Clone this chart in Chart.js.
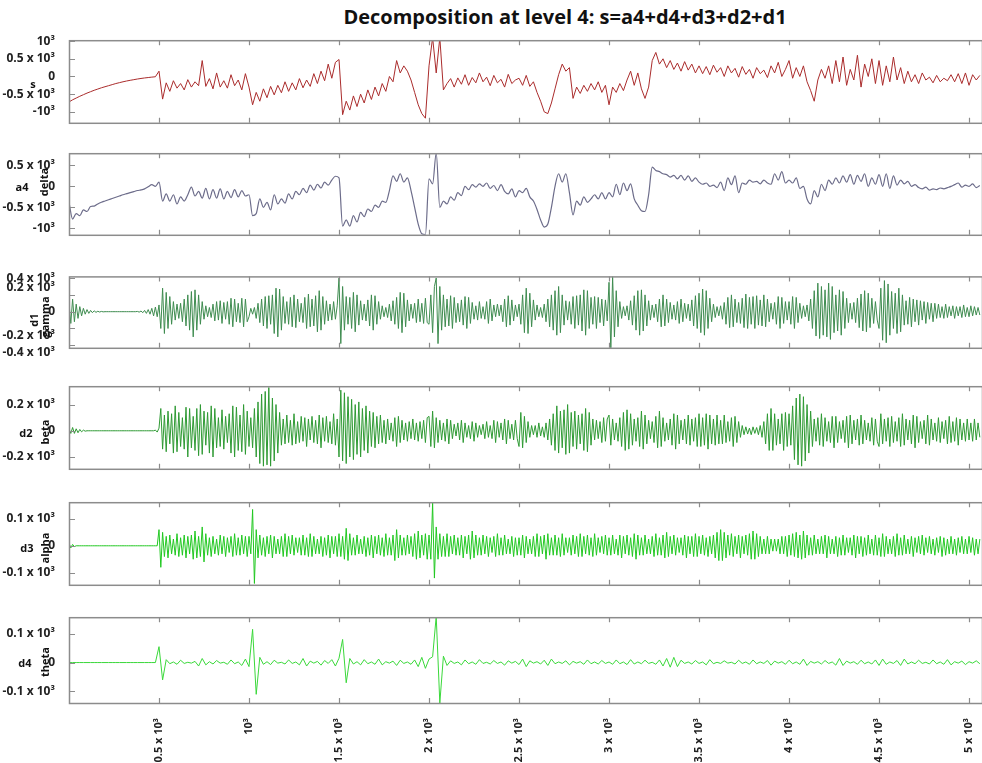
<!DOCTYPE html>
<html>
<head>
<meta charset="utf-8">
<script src="https://cdn.jsdelivr.net/npm/chart.js@4.4.0/dist/chart.umd.min.js"></script>
<style>
  body { margin:0; background:#fff; width:982px; height:763px; overflow:hidden; position:relative; font-family:"Open Sans", sans-serif; }
  canvas { position:absolute; left:0; }
  .title { position:absolute; top:3px; left:565px; transform:translateX(-50%); font-weight:700; font-size:20px; white-space:nowrap; color:#111; }
  .lab { position:absolute; font-weight:700; font-size:11px; color:#111; white-space:nowrap; transform:translate(-50%,-50%); }
  .rot { transform:translate(-50%,-50%) rotate(-90deg); }
</style>
</head>
<body>
<div class="title">Decomposition at level 4: s=a4+d4+d3+d2+d1</div>

<script>
const X_MAX = 5072;
const xTicks = [500, 1000, 1500, 2000, 2500, 3000, 3500, 4000, 4500, 5000];

// --- series: s, a4, d4 sampled every 20; d1, d2, d3 every 10 (one line per 500 samples) ---
const sValues = [
  -720,-660,-610,-560,-515,-470,-430,-390,-355,-320,-290,-260,-230,-200,-175,-150,-128,-108,-90,-72,-56,-42,-30,-18,-8,
  150,-640,-180,-420,-120,-330,-200,-380,-90,-300,-150,-260,450,-280,-60,-350,100,-300,-120,-330,50,-260,-100,-380,80,
  -300,-800,-450,-700,-350,-600,-280,-520,-250,-460,-150,-420,-180,-380,-60,-320,-100,-280,80,-200,150,-120,350,-50,400,
  480,-1080,-700,-950,-550,-850,-500,-750,-380,-650,-300,-550,-200,-420,0,-150,450,100,300,150,-100,-450,-800,-1050,-1180,
  300,1100,100,1100,-380,-200,-60,-300,-40,-220,50,-250,-30,-180,100,-150,-20,-260,30,-180,-80,-300,60,-200,-100,
  -50,-250,30,-280,-150,-450,-700,-1000,-1050,-750,-350,50,350,150,250,-620,-300,-480,-250,-420,-200,-380,-150,-450,-250,
  -800,-300,-450,-200,-400,-100,150,-250,100,-350,-620,-300,450,680,350,500,250,450,200,380,150,420,180,350,100,
  300,80,280,50,320,120,250,0,300,100,230,-20,280,60,200,-50,250,80,180,-30,300,100,400,0,200,
  450,-50,250,0,300,-150,-400,-700,-100,200,-50,300,-200,450,-150,550,-250,200,-100,600,-300,350,0,500,-200,
  450,-250,300,-150,550,-100,250,-200,150,-150,50,-200,100,-100,-20,-180,30,-150,-50,-120,50,-150,80,-200,100,-250,50,-100,30
];

const a4Values = [
  -380,-780,-650,-700,-560,-600,-480,-470,-420,-380,-350,-320,-290,-260,-230,-200,-175,-150,-125,-100,-85,-60,-10,40,0,
  100,-350,-180,-350,-200,-420,-250,-350,-200,-20,-230,-120,-280,-50,-300,-80,-280,-60,-300,-120,-270,-80,-250,-100,-230,
  -200,-700,-650,-300,-500,-380,-560,-200,-420,-300,-400,-180,-300,-120,-200,-50,-150,30,-90,50,-40,100,30,150,240,
  200,-950,-800,-950,-700,-850,-620,-720,-540,-600,-450,-500,-350,-380,-100,250,120,300,100,200,-100,-500,-900,-1130,-1150,
  180,60,790,-500,-350,-420,-250,-330,-150,-220,0,-80,40,-20,60,0,80,-50,20,-100,40,-120,-180,-60,-250,
  -100,-150,-50,-250,-350,-550,-800,-970,-900,-500,0,300,100,300,-150,-680,-350,-450,-250,-380,-300,-200,-300,-150,-300,
  -150,-250,50,-200,80,-100,60,-300,-450,-580,-600,-200,460,380,350,300,280,220,260,180,260,150,250,120,200,
  100,50,80,0,30,-30,100,-100,200,40,250,-150,80,50,150,100,120,60,150,80,50,300,150,350,80,
  150,80,200,-50,0,-300,-420,-100,-250,50,-100,150,50,200,80,250,100,280,50,260,120,300,0,200,50,
  280,0,300,-50,250,30,150,60,120,0,40,-30,-60,-20,-90,-60,-80,-40,-60,-30,0,40,80,-20,30,0,60,-30,20
];

const d1Values = [
  100,-140,150,-120,90,-80,60,-50,40,-30, 25,-20,15,-12,10,-8,5,-4,3,-2, 0,0,0,0,0,0,0,0,0,0, 0,0,0,0,0,0,0,0,3,-5, 8,-12,15,-20,25,-30,40,-50,55,-60,
  80,-200,280,-260,230,-200,180,-150,120,-100, 90,-80,100,-120,150,-170,200,-220,240,-300, 260,-220,200,-150,120,-90,70,-60,50,-70, 90,-110,120,-100,130,-140,110,-90,120,-150, 160,-180,150,-120,100,-130,160,-180,150,-120,
  -60,40,-30,50,-80,100,-130,150,-170,180, -200,190,-150,200,-260,280,-300,270,-220,180, -140,120,-150,170,-180,200,-190,150,-120,100, -130,170,-200,210,-180,150,-170,190,-240,250, -220,180,-150,130,-110,90,-100,120,-90,70,
  400,-380,300,-220,180,-150,170,-200,230,-240, 200,-160,130,-100,90,-110,140,-170,200,-220, 190,-150,120,-90,70,-60,50,-70,90,-110, 130,-150,170,-200,230,-250,220,-180,140,-110, 90,-80,100,-130,150,-120,100,-140,160,-130,
  -150,200,-250,300,400,-380,300,-220,200,-180, 150,-170,190,-200,170,-130,100,-120,140,-160, 180,-200,170,-140,110,-90,70,-100,120,-80, 60,-90,120,-140,150,-110,80,-60,90,-50, 80,-120,150,-180,190,-160,140,-110,80,-60,
  90,-150,200,-250,280,-260,220,-180,140,-100, 80,-60,50,-70,90,-120,150,-180,200,-220, 250,-280,300,-250,200,-160,130,-100,120,-150, 180,-200,190,-160,200,-230,260,-280,250,-200, 170,-150,180,-200,170,-130,150,-170,140,-110,
  350,-470,420,-300,250,-180,120,-80,60,-50, 70,-100,130,-160,190,-220,250,-280,260,-230, 200,-170,130,-100,80,-70,90,-120,150,-180, 200,-170,150,-130,110,-90,80,-100,120,-140, 150,-120,100,-80,90,-110,140,-170,190,-200,
  220,-250,270,-280,250,-200,160,-120,90,-70, 60,-50,70,-90,110,-150,170,-190,200,-180, 150,-130,110,-140,160,-190,210,-200,170,-150, 180,-200,190,-160,140,-170,200,-180,150,-120, 100,-90,110,-150,180,-200,170,-140,120,-100,
  120,-150,180,-200,170,-130,100,-80,70,-60, 80,-110,150,-200,250,-290,340,-320,300,-280, 260,-300,340,-330,300,-250,200,-230,260,-280, 240,-200,160,-130,100,-90,110,-130,160,-190, 210,-230,250,-240,220,-190,160,-140,120,-100,
  -200,280,-340,370,-370,330,-280,240,-200,220, -260,280,-240,200,-160,130,-150,170,-180,150, -120,140,-160,130,-100,120,-140,110,-90,100, -120,100,-80,90,-70,60,-80,90,-70,60, -50,70,-80,60,-50,60,-70,80,-60,50, -60,70,-50,60,-40,50,-40
];

const d2Values = [
  15,-20,25,-20,15,-15,10,-8,5,-3, 0,0,0,0,0,0,0,0,0,0, 0,0,0,0,0,0,0,0,0,0, 0,0,0,0,0,0,0,0,0,0, 0,0,0,0,0,0,0,0,5,-10,
  20,170,-140,120,-160,150,-100,130,-170,190, -160,140,-120,100,-140,180,-200,170,-130,110, -150,170,-190,200,-180,150,-110,140,-170,190, -200,170,-130,100,-120,160,-140,110,-90,130, -170,190,-200,180,-150,120,-160,200,-180,150,
  -120,100,-130,170,-200,220,-250,280,-270,300, -260,330,-270,250,-230,200,-170,140,-110,90, -100,120,-90,80,-110,130,-100,70,-90,110, -80,100,-120,90,-70,110,-90,80,-100,120, -130,100,-80,110,-90,70,-100,130,-110,90,
  -200,310,-230,290,-250,260,-200,240,-220,200, -180,220,-200,170,-150,190,-170,150,-120,140, -130,110,-100,120,-90,80,-100,90,-70,60, -80,100,-120,110,-90,80,-70,60,-80,70, -60,90,-70,60,-80,70,-60,80,-90,100,
  110,-120,150,-130,100,-90,80,-70,60,-80, 90,-100,80,-60,50,-40,60,-70,80,-90, 60,-50,40,-60,70,-80,60,-50,40,-30, 50,-60,70,-50,40,-60,80,-90,70,-50, 60,-70,90,-100,80,-60,50,-70,80,-60,
  -120,140,-130,110,-90,70,-50,40,-30,40, -50,60,-40,30,-50,60,-70,90,-110,130, -150,190,-170,150,-130,160,-180,200,-170,140, -120,150,-140,120,-100,130,-150,170,-160,140, -110,90,-70,80,-60,70,-90,100,-80,90,
  120,-110,90,-70,60,-80,100,-120,140,-150, 160,-140,130,-110,90,-80,100,-120,150,-140, 120,-100,80,-60,70,-90,110,-130,150,-120, 100,-80,60,-70,90,-110,130,-140,120,-100, 80,-70,90,-100,120,-110,90,-80,100,-120,
  130,-120,100,-110,130,-140,120,-100,90,-110, 120,-100,80,-100,120,-90,70,-80,100,-120, 110,-90,70,-50,40,-30,30,-25,20,-30, 30,-20,25,-30,40,-50,70,-100,130,-150, 170,-150,130,-110,90,-100,130,-150,140,-120,
  130,-110,190,-220,250,-260,280,-270,260,-230, 200,-170,150,-120,90,-80,100,-110,130,-120, 100,-80,70,-90,110,-130,110,-90,70,-60, 80,-90,110,-130,120,-100,80,-70,90,-110, 120,-100,80,-70,60,-80,100,-110,90,-80,
  -120,130,-100,90,-80,100,-120,110,-90,70, -80,100,-120,130,-110,90,-70,80,-100,120, -130,110,-90,70,-60,80,-100,120,-110,90, -70,60,-80,100,-90,70,-60,80,-100,110, -90,70,-80,100,-110,90,-70,60,-80,90, -70,60,-80,90,-70,60,-50
];

const d3Values = [
  10,-8,5,-3,0,0,0,0,0,0, 0,0,0,0,0,0,0,0,0,0, 0,0,0,0,0,0,0,0,0,0, 0,0,0,0,0,0,0,0,0,0, 0,0,0,0,0,0,0,0,0,0,
  60,-80,50,-40,35,-45,40,-30,25,-35, 45,-40,30,-35,40,-45,35,-30,40,-50, 55,-45,35,-40,70,-60,45,-35,30,-40, 35,-30,25,-35,40,-30,35,-40,30,-25, 35,-40,45,-35,30,-35,40,-30,35,-40,
  35,-30,135,-140,60,-45,40,-35,30,-40, 35,-30,40,-45,35,-30,25,-30,35,-40, 45,-40,35,-30,40,-35,30,-25,30,-35, 40,-35,30,-40,45,-40,35,-30,25,-30, 35,-40,30,-35,40,-45,35,-30,35,-40,
  45,-40,35,-50,65,-55,45,-35,30,-35, 40,-30,25,-30,35,-40,30,-35,40,-45, 35,-30,40,-35,30,-40,45,-35,30,-35, 40,-55,60,-45,40,-35,30,-35,40,-30, 35,-40,45,-50,55,-45,40,-35,45,-50,
  40,-50,160,-120,70,-50,45,-40,35,-40, 45,-40,35,-30,40,-35,30,-35,40,-45, 35,-30,40,-50,55,-45,40,-35,30,-35, 40,-30,35,-40,30,-25,35,-40,45,-35, 30,-35,40,-30,25,-30,35,-40,30,-35,
  30,-35,40,-45,35,-30,25,-30,35,-40, 45,-40,35,-30,40,-50,45,-35,30,-35, 40,-35,30,-40,45,-35,30,-25,30,-35, 40,-30,35,-40,45,-40,35,-30,40,-35, 30,-40,45,-35,30,-25,35,-30,40,-35,
  30,-35,40,-30,25,-35,40,-45,35,-30, 40,-35,30,-40,45,-50,40,-35,30,-35, 40,-30,25,-30,35,-40,45,-35,30,-35, 40,-45,50,-40,35,-30,40,-35,30,-25, 30,-35,40,-45,35,-30,35,-40,45,-40,
  35,-30,40,-35,30,-40,35,-30,40,-45, 50,-55,60,-55,50,-45,40,-35,45,-40, 35,-30,40,-45,35,-30,40,-35,45,-50, 55,-50,45,-40,35,-30,25,-30,35,-30, 25,-20,25,-20,25,-30,35,-30,35,-40,
  40,-35,45,-40,50,-45,40,-50,55,-45, 40,-35,30,-35,40,-30,25,-30,35,-30, 40,-45,35,-30,25,-30,35,-40,30,-35, 40,-35,30,-25,30,-35,40,-45,35,-30, 35,-40,30,-35,40,-30,25,-35,40,-35,
  30,-40,45,-40,35,-30,25,-30,35,-40, 45,-35,30,-35,40,-30,25,-30,35,-40, 30,-25,35,-30,40,-35,30,-25,35,-30, 25,-35,30,-25,35,-40,30,-35,25,-30, 35,-30,25,-35,30,-25,35,-30,25,-30, 35,-25,30,-35,25,-30,25
];

const d4Values = [
  0,0,0,0,0,0,0,0,0,0,0,0,0,0,0,0,0,0,0,0,0,0,0,0,0,
  55,-60,10,-4,2,-6,8,-3,1,-2,4,-12,14,-8,3,-5,7,-2,1,-6,9,-4,2,-10,12,
  -14,115,-110,18,-6,3,-7,8,-2,1,-5,9,-3,2,-8,14,-12,5,-2,4,-9,7,-3,10,-12,
  15,80,-70,14,-5,3,-8,10,-4,2,-6,12,-8,3,-2,5,-10,8,-3,2,-6,9,-14,18,-20,
  12,20,160,-140,22,-10,6,-3,2,-8,9,-4,2,-6,10,-3,1,-5,7,-3,2,-9,6,-2,4,
  -7,12,-14,6,-2,3,-5,8,-10,12,-4,2,-3,6,-8,4,-2,3,-6,9,-4,2,-5,7,-3,
  2,-6,9,-4,2,-7,10,-5,2,-4,8,-3,1,-6,9,-12,14,-16,18,-14,8,-3,2,-5,7,
  -3,2,-8,10,-4,1,-3,6,-2,1,-5,8,-3,2,-6,9,-4,2,-3,7,-9,5,-2,3,-6,
  8,-4,2,-6,12,-10,4,-2,3,-5,7,-3,2,-9,14,-10,5,-2,3,-6,8,-4,2,-5,9,
  -10,12,-6,2,-3,7,-10,12,-5,2,-4,8,-3,1,-5,9,-4,2,-6,10,-8,3,-2,5,-7,3,-2,6,-4
];

// --- panels: plot-area top/bottom in page pixels, y range, tick values ---
const panels = [
  { values: sValues,  step: 20, color: "#aa2c2c", width: 1,   top: 37,  bottom: 126, min: -1310, max: 1026, yTicks: [1000, 500, 0, -500, -1000], name: "s",  alt: null },
  { values: a4Values, step: 20, color: "#6c6c8a", width: 1.2, top: 150, bottom: 238, min: -1155, max: 790,  yTicks: [500, 0, -500, -1000], name: "a4", alt: "delta", smooth: true },
  { values: d1Values, step: 10, color: "#3f8c50", width: 1,   top: 266, bottom: 351, min: -430,  max: 420,  yTicks: [400, 200, 0, -200, -400], name: "d1", alt: "gamma", nameRot: true,
    labelShift: { "200": "up", "-200": "down", "-400": "down" } },
  { values: d2Values, step: 10, color: "#2f9a34", width: 1,   top: 383, bottom: 472, min: -290,  max: 340,  yTicks: [200, 0, -200], name: "d2", alt: "beta" },
  { values: d3Values, step: 10, color: "#22c822", width: 1,   top: 499, bottom: 588, min: -145,  max: 162,  yTicks: [100, 0, -100], name: "d3", alt: "alpha" },
  { values: d4Values, step: 20, color: "#3ad83a", width: 1,   top: 614, bottom: 703, min: -140,  max: 157,  yTicks: [100, 0, -100], name: "d4", alt: "theta" }
];

const PAD = 10;
const X_AXIS_H = 60;

// 500 -> "0.5 x 10³", 1000 -> "10³", -1000 -> "-10³"
function fmtTick(v) {
  if (v === 0) return "0";
  const k = v / 1000;
  if (k === 1) return "10³";
  if (k === -1) return "-10³";
  return `${k} x 10³`;
}

// box frame + inward tick marks, MATLAB style
const framePlugin = {
  id: "frame",
  afterDatasetsDraw(chart) {
    const { ctx, chartArea: a } = chart;
    const xs = chart.scales.x, ys = chart.scales.y;
    ctx.save();
    ctx.strokeStyle = "#8c8c8c";
    ctx.lineWidth = 1.5;
    ctx.strokeRect(a.left + 0.5, a.top + 0.5, a.right - a.left, a.bottom - a.top);
    ctx.lineWidth = 1.2;
    ctx.beginPath();
    xTicks.forEach(v => {
      const px = Math.round(xs.getPixelForValue(v)) + 0.5;
      ctx.moveTo(px, a.top); ctx.lineTo(px, a.top + 5);
      ctx.moveTo(px, a.bottom); ctx.lineTo(px, a.bottom - 5);
    });
    ys.ticks.forEach(t => {
      const py = Math.round(ys.getPixelForValue(t.value)) + 0.5;
      ctx.moveTo(a.left, py); ctx.lineTo(a.left + 6, py);
    });
    ctx.stroke();
    ctx.restore();
  }
};

const tickFont = { family: "'Open Sans', sans-serif", size: 12, weight: "bold" };

panels.forEach((p, i) => {
  const isLast = i === panels.length - 1;
  const canvas = document.createElement("canvas");
  const h = (p.bottom - p.top) + PAD + (isLast ? X_AXIS_H + 4 : PAD);
  canvas.width = 982;
  canvas.height = h;
  canvas.style.top = (p.top - PAD) + "px";
  document.body.appendChild(canvas);

  const xScale = {
    type: "linear", min: 0, max: X_MAX, display: isLast,
    grid: { display: false }, border: { display: false },
    afterBuildTicks: sc => { sc.ticks = xTicks.map(v => ({ value: v })); },
    ticks: {
      autoSkip: false, minRotation: 90, maxRotation: 90, padding: 7,
      font: { family: "'Open Sans', sans-serif", size: 11, weight: "bold" }, color: "#222",
      callback: v => fmtTick(v)
    }
  };
  if (isLast) xScale.afterFit = sc => { sc.height = X_AXIS_H; sc.paddingLeft = 0; sc.paddingRight = 0; };

  new Chart(canvas.getContext("2d"), {
    type: "line",
    data: {
      datasets: [{
        data: p.values.map((v, k) => ({ x: k * p.step, y: v })),
        borderColor: p.color,
        borderWidth: p.width,
        pointRadius: 0,
        fill: false,
        tension: p.smooth ? 0.35 : 0,
        cubicInterpolationMode: p.smooth ? "monotone" : "default"
      }]
    },
    options: {
      responsive: false,
      animation: false,
      events: [],
      layout: { padding: { top: PAD, bottom: isLast ? 4 : PAD, left: 0, right: 0 } },
      plugins: { legend: { display: false }, tooltip: { enabled: false } },
      scales: {
        x: xScale,
        y: {
          type: "linear", min: p.min, max: p.max,
          grid: { display: false }, border: { display: false },
          afterBuildTicks: sc => { sc.ticks = p.yTicks.map(v => ({ value: v })); },
          afterFit: sc => { sc.width = 69; },
          ticks: {
            autoSkip: false, padding: 6, font: tickFont, color: "#222",
            callback: v => {
              const t = fmtTick(v);
              const sh = p.labelShift && p.labelShift[String(v)];
              return sh === "up" ? [t, ""] : sh === "down" ? ["", t] : t;
            }
          }
        }
      }
    },
    plugins: [framePlugin]
  });
});

// panel names (rotated band names next to them)
const nameSpots = [
  { x: 33, y: 83 },
  { x: 22, y: 186, ax: 43, ay: 182 },
  { x: 33, y: 320, ax: 44, ay: 317 },
  { x: 26, y: 432, ax: 44, ay: 432 },
  { x: 27, y: 547, ax: 44, ay: 548 },
  { x: 25, y: 662, ax: 44, ay: 662 }
];
panels.forEach((p, i) => {
  const s = nameSpots[i];
  const n = document.createElement("div");
  n.className = "lab" + (p.nameRot ? " rot" : "");
  n.style.left = s.x + "px"; n.style.top = s.y + "px";
  n.textContent = p.name;
  document.body.appendChild(n);
  if (p.alt) {
    const a = document.createElement("div");
    a.className = "lab rot";
    a.style.left = s.ax + "px"; a.style.top = s.ay + "px";
    a.textContent = p.alt;
    document.body.appendChild(a);
  }
});
</script>
</body>
</html>
